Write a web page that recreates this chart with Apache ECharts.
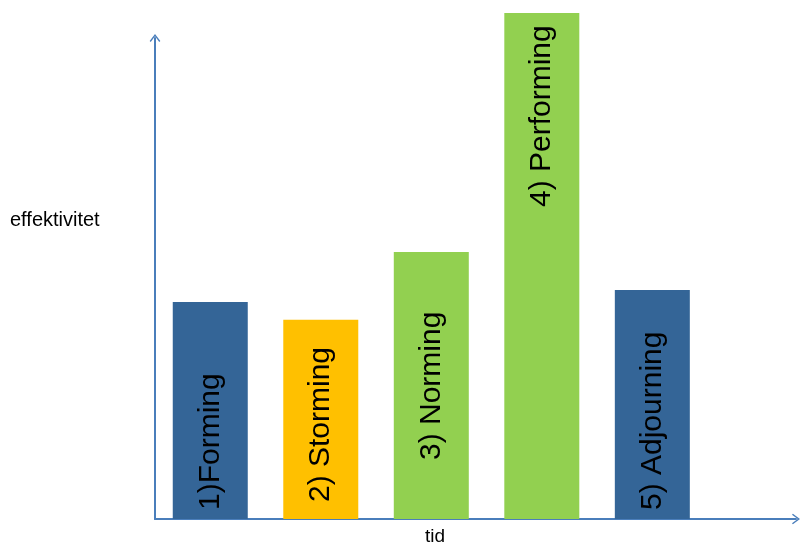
<!DOCTYPE html>
<html>
<head>
<meta charset="utf-8">
<script src="https://cdn.jsdelivr.net/npm/echarts@6/dist/echarts.min.js"></script>
<style>
  html, body { margin: 0; padding: 0; background: #fff; }
  #chart { width: 801px; height: 546px; }
</style>
</head>
<body>
<div id="chart"></div>
<script>
// faser (kategorier) og effektivitet
const phases = ['1)Forming', '2) Storming', '3) Norming', '4) Performing', '5) Adjourning'];
const effect = [45.1, 41.4, 55.5, 105.2, 47.6];
const barColors = ['#346597', '#ffc000', '#92d050', '#92d050', '#346597'];
// hvor høyt teksten starter inne i stolpen (px over aksen)
const labelLift = [9, 17, 59, 312, 9];

const axisColor = '#4a7ebb';
const chevron = 'path://M0,8 L6,0 L12,8 L10.8,9 L6,2.6 L1.2,9 Z';

const chart = echarts.init(document.getElementById('chart'));

chart.setOption({
  animation: false,
  grid: { left: 155, right: 5, top: 38, bottom: 27 },
  xAxis: {
    type: 'value',
    min: -0.5,
    max: 5.3,
    axisLine: {
      show: true,
      onZero: false,
      lineStyle: { color: axisColor, width: 2 },
      symbol: ['none', chevron],
      symbolSize: [12, 8]
    },
    axisTick: { show: false },
    axisLabel: { show: false },
    splitLine: { show: false }
  },
  yAxis: {
    type: 'value',
    min: 0,
    max: 100,
    axisLine: {
      show: true,
      onZero: false,
      lineStyle: { color: axisColor, width: 2 },
      symbol: ['none', chevron],
      symbolSize: [12, 8]
    },
    axisTick: { show: false },
    axisLabel: { show: false },
    splitLine: { show: false }
  },
  series: [{
    type: 'bar',
    barWidth: 75,
    clip: false,
    z: 1,
    data: effect.map((v, i) => ({
      value: [i, v],
      itemStyle: { color: barColors[i] },
      label: {
        show: true,
        position: 'insideBottom',
        distance: labelLift[i],
        rotate: 90,
        align: 'left',
        verticalAlign: 'middle',
        formatter: phases[i],
        color: '#000',
        fontFamily: 'Liberation Sans, Arial, sans-serif',
        fontSize: 30
      }
    }))
  }],
  graphic: [
    {
      type: 'text',
      left: 10,
      top: 210,
      style: {
        text: 'effektivitet',
        fill: '#000',
        font: '20px "Liberation Sans", Arial, sans-serif'
      }
    },
    {
      type: 'text',
      left: 425,
      top: 527,
      style: {
        text: 'tid',
        fill: '#000',
        font: '19px "Liberation Sans", Arial, sans-serif'
      }
    }
  ]
});
</script>
</body>
</html>
